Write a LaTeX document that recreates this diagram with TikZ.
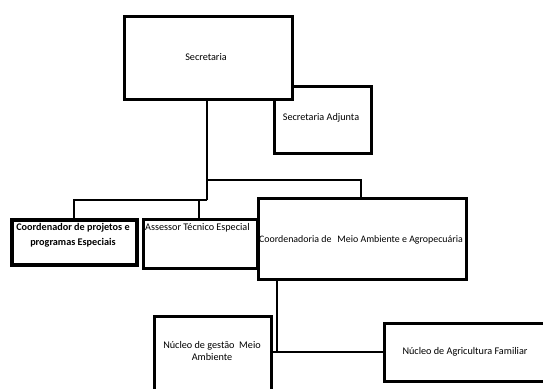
\documentclass[tikz,border=0pt]{standalone}
\usepackage{fontspec}
\setmainfont{Carlito}
\begin{document}
\begin{tikzpicture}[x=1pt,y=-1pt,
  box/.style={draw=black,fill=white,line width=2.6pt,inner sep=0pt,anchor=north west},
  conn/.style={draw=black,line width=1.6pt},
  txt/.style={font=\fontsize{10.2}{12}\selectfont,inner sep=0pt,align=center}]
\useasboundingbox (0,0) rectangle (543,388);
\clip (0,0) rectangle (543,388);
% connectors
\coordinate (j1) at (207,180);
\coordinate (j2) at (207,200);
\coordinate (j3) at (277,352);
\draw[conn] (207,98) -- (j2);
\draw[conn] (j2) -| (74,218);
\draw[conn] (j2) -| (199,218);
\draw[conn] (j1) -| (361,197);
\draw[conn] (277,278) -- (j3);
\draw[conn] (270,352) -- (383,352);
% boxes
\node[box,minimum width=97pt,minimum height=67pt] (adj) at (273,85) {};
\node[txt] (adjt) at (321,118) {Secretaria Adjunta};
\node[box,minimum width=168pt,minimum height=83pt] (sec) at (123,15) {};
\node[txt] (sect) at (206,57) {Secretaria};
\node[box,line width=3.6pt,minimum width=125pt,minimum height=45pt] (coordr) at (10,218) {};
\node[txt,font=\fontsize{10.2}{15}\selectfont\bfseries,anchor=north] (coordrt) at (73,223) {Coordenador de projetos e\\programas Especiais};
\node[box,minimum width=114pt,minimum height=49pt] (asse) at (142,218) {};
\node[txt,anchor=west] (asset) at (145,228) {Assessor Técnico Especial};
\node[box,minimum width=208pt,minimum height=81pt] (coorda) at (257,197) {};
\node[txt,font=\fontsize{9.9}{12}\selectfont] (coordat) at (361,240) {Coordenadoria de\hspace{6pt}Meio Ambiente e Agropecuária};
\node[box,minimum width=117pt,minimum height=90pt] (nga) at (153,315) {};
\node[txt,font=\fontsize{10.2}{12.5}\selectfont] (ngat) at (212,351) {Núcleo de gestão\ \ Meio\\Ambiente};
\node[box,minimum width=180pt,minimum height=58pt] (naf) at (383,322) {};
\node[txt] (naft) at (465,352) {Núcleo de Agricultura Familiar};
\end{tikzpicture}
\end{document}
